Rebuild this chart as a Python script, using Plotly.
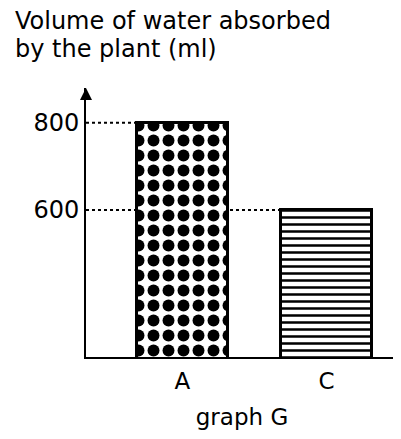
import plotly.graph_objects as go

categories = ["A", "C"]
values = [800, 600]
tick_values = [600, 800]
tick_labels = ["600", "800"]
title_lines = ["Volume of water absorbed", "by the plant (ml)"]
x_title = "graph G"

FONT = "DejaVu Sans, Verdana, sans-serif"
bar_width = 0.63
x_range = [-0.67, 1.497]
y_range = [262, 880]

W, H = 401, 439
L, R, T, B = 78, 11, 80, 90
PW, PH = W - L - R, H - T - B


def px_to_paper(fx, fy):
    return (fx - L) / PW, 1 + (T - fy) / PH


fig = go.Figure()
patterns = [
    dict(shape=".", size=15, solidity=0.5, fgcolor="black", bgcolor="white", fillmode="replace"),
    dict(shape="-", size=7, solidity=0.36, fgcolor="black", bgcolor="white", fillmode="replace"),
]
for i, (cat, val) in enumerate(zip(categories, values)):
    fig.add_trace(go.Bar(
        x=[i], y=[val], width=bar_width,
        marker=dict(color="white", pattern=patterns[i], line=dict(color="black", width=3)),
        showlegend=False, hoverinfo="skip",
    ))
    fig.add_shape(type="line", xref="x", yref="y",
                  x0=x_range[0], x1=i - bar_width / 2, y0=val, y1=val,
                  line=dict(color="black", width=2, dash="dot"), layer="below")

# arrow head on top of the y axis
fig.add_annotation(x=x_range[0], y=y_range[1], ax=x_range[0], ay=y_range[1] - 30,
                   xref="x", yref="y", axref="x", ayref="y", text="",
                   showarrow=True, arrowhead=2, arrowsize=1.2, arrowwidth=2,
                   arrowcolor="black", standoff=0)

# two-line y-axis caption at the top-left
for line, fy in zip(title_lines, [13, 41]):
    px, py = px_to_paper(5, fy)
    fig.add_annotation(text=line, x=px, y=py, xref="paper", yref="paper",
                       xanchor="left", yanchor="middle", showarrow=False,
                       font=dict(family=FONT, size=24, color="black"))

fig.update_layout(
    width=W, height=H,
    margin=dict(l=L, r=R, t=T, b=B),
    paper_bgcolor="white", plot_bgcolor="white",
    font=dict(family=FONT, color="black", size=23),
    bargap=0,
    xaxis=dict(range=x_range, tickvals=list(range(len(categories))), ticktext=categories,
               showline=True, linecolor="black", linewidth=2, ticks="",
               showgrid=False, zeroline=False, ticklabelstandoff=2,
               tickfont=dict(size=23),
               title=dict(text=x_title, standoff=16, font=dict(size=23))),
    yaxis=dict(range=y_range, tickvals=tick_values, ticktext=tick_labels,
               showline=True, linecolor="black", linewidth=2, ticks="",
               showgrid=False, zeroline=False, ticklabelstandoff=0,
               tickfont=dict(size=24)),
)

fig.write_html("out.html")
